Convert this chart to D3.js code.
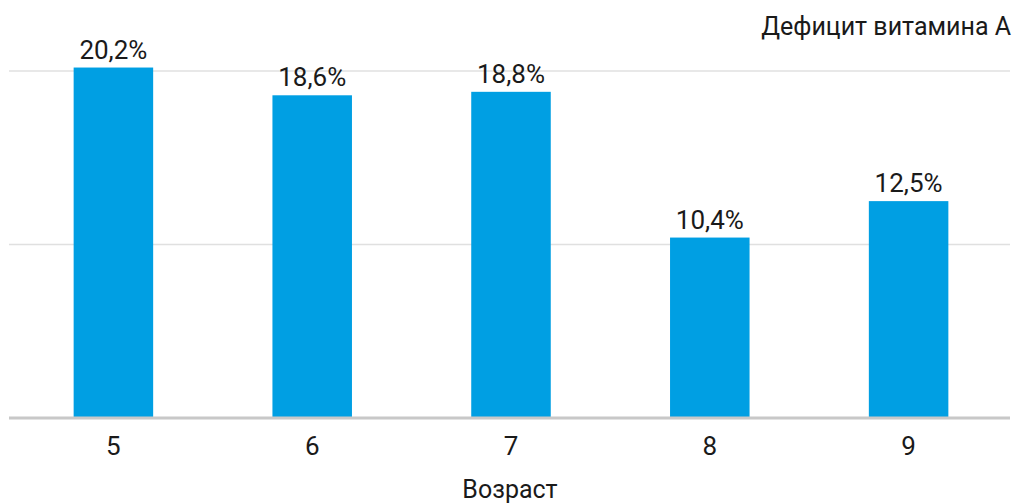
<!DOCTYPE html>
<html><head><meta charset="utf-8">
<script src="https://cdn.jsdelivr.net/npm/d3@7"></script>
<style>body{margin:0;background:#fff;} text{font-family:Roboto,"DejaVu Sans",sans-serif;fill:#1a1a1a;font-weight:400;}</style>
</head><body>
<svg id="c" width="1012" height="504"></svg>
<script>
const categories = ["5","6","7","8","9"];
const values = [20.2, 18.6, 18.8, 10.4, 12.5];
const labels = ["20,2%","18,6%","18,8%","10,4%","12,5%"];
const gridTicks = [0, 10, 20];
const title = "Дефицит витамина А";
const xTitle = "Возраст";

const svg = d3.select("#c");
const x = d3.scaleBand().domain(categories).range([14, 1008]).paddingInner(0.6).paddingOuter(0.3);
const y = d3.scaleLinear().domain([0, 20]).range([418, 71]);

svg.append("g").selectAll("line").data(gridTicks.filter(d => d > 0)).join("line")
  .attr("x1", 9).attr("x2", 1010).attr("y1", d => y(d)).attr("y2", d => y(d))
  .attr("stroke", "#e0e0e0").attr("stroke-width", 1.5);

svg.append("g").selectAll("rect").data(values).join("rect")
  .attr("x", (d, i) => x(categories[i])).attr("width", x.bandwidth())
  .attr("y", d => y(d)).attr("height", d => y(0) - y(d)).attr("fill", "#009fe3");

svg.append("line").attr("x1", 9).attr("x2", 1010).attr("y1", y(0)).attr("y2", y(0))
  .attr("stroke", "#c8c8c8").attr("stroke-width", 3);

svg.append("g").selectAll("text").data(values).join("text")
  .attr("x", (d, i) => x(categories[i]) + x.bandwidth() / 2).attr("y", d => y(d) - 9)
  .attr("text-anchor", "middle").attr("font-size", 26).text((d, i) => labels[i]);

svg.append("g").selectAll("text").data(categories).join("text")
  .attr("x", d => x(d) + x.bandwidth() / 2).attr("y", 455)
  .attr("text-anchor", "middle").attr("font-size", 26).text(d => d);

svg.append("text").attr("x", 510).attr("y", 498).attr("text-anchor", "middle")
  .attr("font-size", 25).text(xTitle);

svg.append("text").attr("x", 1011).attr("y", 35).attr("text-anchor", "end")
  .attr("font-size", 25).text(title);
</script>
</body></html>
